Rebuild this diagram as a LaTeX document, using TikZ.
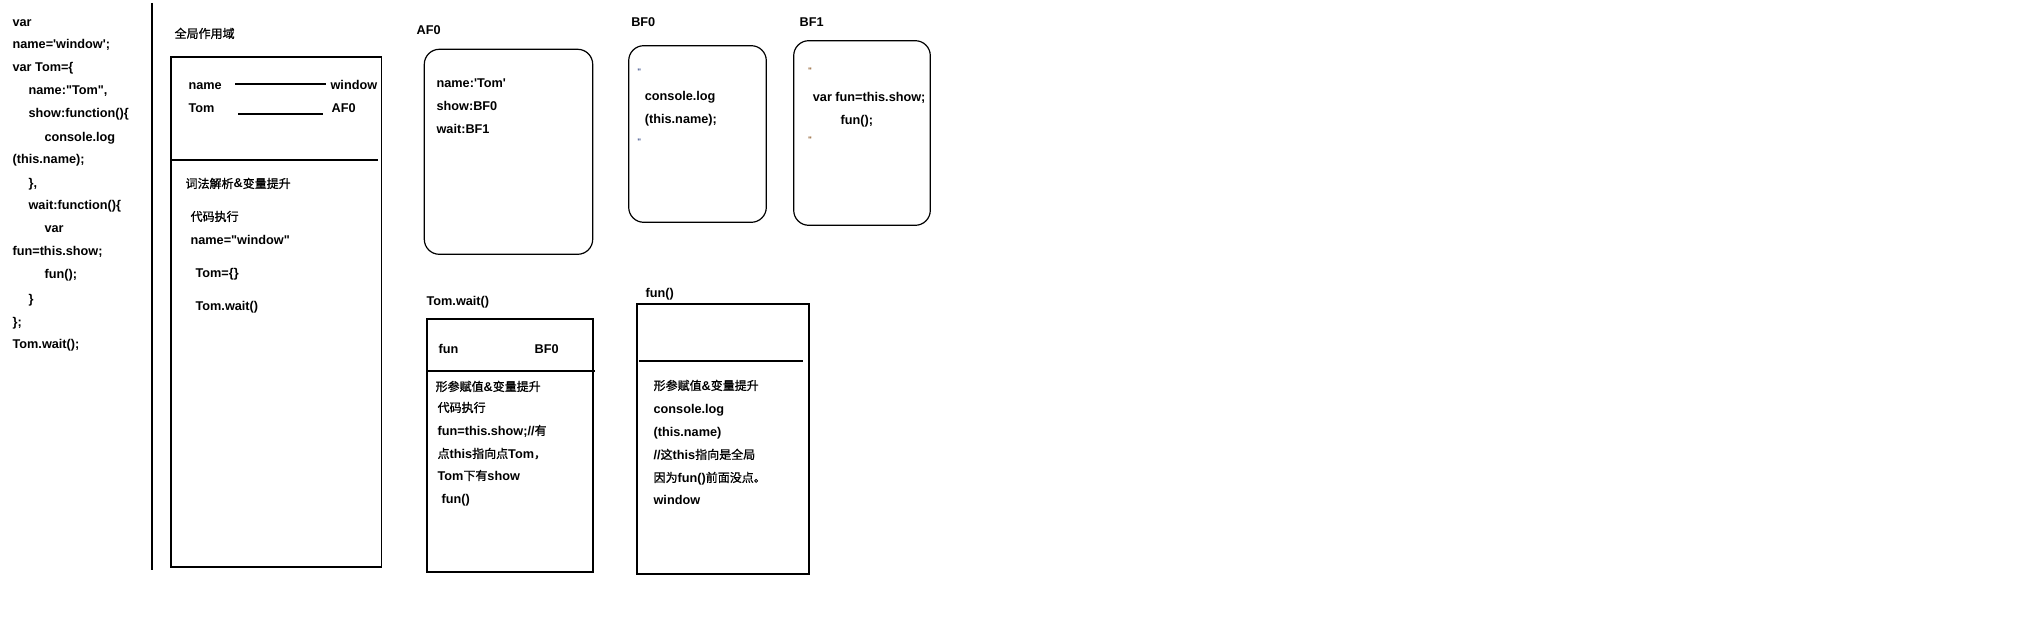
\documentclass[tikz,border=0pt]{standalone}
\usepackage{fontspec}
\newfontfamily\latf{Liberation Sans}
\newfontfamily\zhfont{Noto Sans CJK SC}[FakeBold=1]
\newcommand\zh[1]{{\zhfont\fontsize{12}{15}\mdseries\selectfont #1}}
\definecolor{qblue}{RGB}{60,80,140}
\definecolor{qbrown}{RGB}{140,90,40}
\tikzset{
 txt/.style={anchor=base west, inner sep=0pt, font=\latf\fontsize{12.7}{15}\bfseries\selectfont},
 box/.style={draw, line width=1.2pt, inner sep=0pt},
 rbox/.style={box, rounded corners=15pt},
 qm/.style={inner sep=0pt, font=\latf\fontsize{8}{8}\bfseries\selectfont}
}
\begin{document}
\begin{tikzpicture}[x=1pt,y=-1pt, line width=1.2pt]
\useasboundingbox (0,0) rectangle (2044,644);
% code listing
\node[txt] (c1) at (12,27) {var};
\node[txt] (c2) at (12,49) {name='window';};
\node[txt] (c3) at (12,72) {var Tom=\{};
\node[txt] (c4) at (28,95) {name:"Tom",};
\node[txt] (c5) at (28,118) {show:function()\{};
\node[txt] (c6) at (44,142) {console.log};
\node[txt] (c7) at (12,164) {(this.name);};
\node[txt] (c8) at (28,188) {\},};
\node[txt] (c9) at (28,210) {wait:function()\{};
\node[txt] (c10) at (44,233) {var};
\node[txt] (c11) at (12,256) {fun=this.show;};
\node[txt] (c12) at (44,279) {fun();};
\node[txt] (c13) at (28,303) {\}};
\node[txt] (c14) at (12,326) {\};};
\node[txt] (c15) at (12,348) {Tom.wait();};
\coordinate (sepT) at (152,3);
\coordinate (sepB) at (152,570);
\draw (sepT) -- (sepB);
% global scope
\node[txt] (gtitle) at (174,38) {\zh{全局作用域}};
\node[box, minimum width=210.5, minimum height=510] (gbox) at (276.25,312) {};
\draw (170,160) -- (378,160);
\node[txt] (gname) at (188,90) {name};
\node[txt] (gwin) at (330,90) {window};
\node[txt] (gtom) at (188,113) {Tom};
\node[txt] (gaf) at (331,113) {AF0};
\draw (235,84) -- (326,84);
\draw (238,114) -- (323,114);
\node[txt] (g1) at (185,188) {\zh{词法解析}\&\zh{变量提升}};
\node[txt] (g2) at (190,221) {\zh{代码执行}};
\node[txt] (g3) at (190,244) {name="window"};
\node[txt] (g4) at (195,277) {Tom=\{\}};
\node[txt] (g5) at (195,310) {Tom.wait()};
% AF0
\node[txt] (aflab) at (416,35) {AF0};
\node[rbox, minimum width=168.4, minimum height=205] (afbox) at (508.5,151.8) {};
\node[txt] (a1) at (436,87.3) {name:'Tom'};
\node[txt] (a2) at (436,110.7) {show:BF0};
\node[txt] (a3) at (436,133.3) {wait:BF1};
% BF0
\node[txt] (bf0lab) at (630.7,26.7) {BF0};
\node[rbox, minimum width=137.6, minimum height=176.6] (bf0box) at (697.5,134) {};
\node[qm, text=qblue] (bq1) at (639.3,71.7) {"};
\node[txt] (b1) at (644.3,101) {console.log};
\node[txt] (b2) at (644.3,123.3) {(this.name);};
\node[qm, text=qblue] (bq2) at (639.3,141.7) {"};
% BF1
\node[txt] (bf1lab) at (799,26.7) {BF1};
\node[rbox, minimum width=136.6, minimum height=184.6] (bf1box) at (862,133) {};
\node[qm, text=qbrown] (cq1) at (810,70.7) {"};
\node[txt] (d1) at (812.3,101.7) {var fun=this.show;};
\node[txt] (d2) at (840,124.3) {fun();};
\node[qm, text=qbrown] (cq2) at (810,139.3) {"};
% Tom.wait()
\node[txt] (twlab) at (426,305) {Tom.wait()};
\node[box, minimum width=166, minimum height=253] (twbox) at (510,445.5) {};
\draw (427,371) -- (595,371);
\node[txt] (t0a) at (438,353) {fun};
\node[txt] (t0b) at (534,353) {BF0};
\node[txt] (t1) at (435,391) {\zh{形参赋值}\&\zh{变量提升}};
\node[txt] (t2) at (437,412) {\zh{代码执行}};
\node[txt] (t3) at (437,435) {fun=this.show;//\zh{有}};
\node[txt] (t4) at (437,458) {\zh{点}this\zh{指向点}Tom\zh{，}};
\node[txt] (t5) at (437,480) {Tom\zh{下有}show};
\node[txt] (t6) at (441,503) {fun()};
% fun()
\node[txt] (fnlab) at (645,298) {fun()};
\node[box, minimum width=172, minimum height=270] (fnbox) at (723,439) {};
\draw (639,361) -- (803,361);
\node[txt] (f1) at (653,390) {\zh{形参赋值}\&\zh{变量提升}};
\node[txt] (f2) at (653,413) {console.log};
\node[txt] (f3) at (653,436) {(this.name)};
\node[txt] (f4) at (653,459) {//\zh{这}this\zh{指向是全局}};
\node[txt] (f5) at (653,482) {\zh{因为}fun()\zh{前面没点。}};
\node[txt] (f6) at (653,504) {window};
\end{tikzpicture}
\end{document}
